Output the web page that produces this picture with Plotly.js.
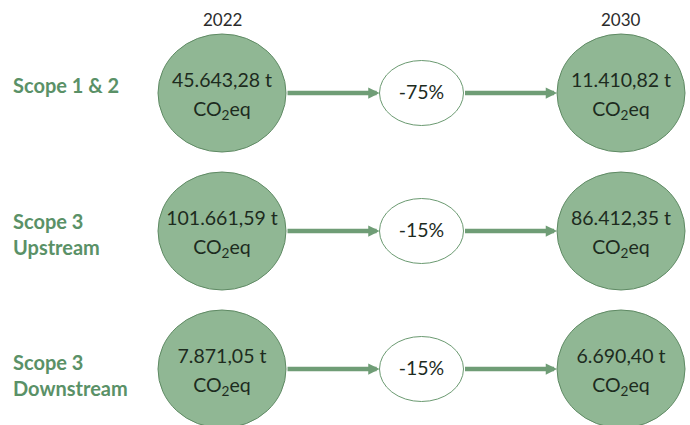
<!DOCTYPE html>
<html><head><meta charset="utf-8">
<script src="https://cdn.plot.ly/plotly-3.0.1.min.js"></script>
<style>html,body{margin:0;padding:0;background:#fff}#chart{width:690px;height:425px}</style>
</head><body><div id="chart"></div>
<script>
// ---- data ----
const scopes = ['Scope 1 &amp; 2', 'Scope 3<br>Upstream', 'Scope 3<br>Downstream'];
const years = ['2022', '2030'];
const emissions2022 = [45643.28, 101661.59, 7871.05];
const emissions2030 = [11410.82, 86412.35, 6690.40];
const reductions = [-75, -15, -15];
const unitLabel = 'CO<sub>2</sub>eq';

// ---- helpers ----
function fmtDE(v) {
  const parts = v.toFixed(2).split('.');
  const intPart = parts[0].replace(/\B(?=(\d{3})+(?!\d))/g, '.');
  return intPart + ',' + parts[1] + ' t';
}
const SX = 199.5, SY = 138;          // px per data unit
const px2x = p => p / SX, px2y = p => p / SY;
const bigRx = px2x(64), bigRy = px2y(59);
const smRx = px2x(42), smRy = px2y(32.5);
const colFrom = 0, colMid = 1, colTo = 2;
const rowIdx = scopes.map((_, i) => i);

const fillGreen = '#90b794', edgeGreen = '#5f8a64', arrowGreen = '#6f9d76';
const labelGreen = '#5a9167', textDark = '#1d2b1e';
const FONT = 'Lato, "Open Sans", sans-serif';

const shapes = [];
rowIdx.forEach(r => {
  [colFrom, colTo].forEach(c => shapes.push({
    type: 'circle', xref: 'x', yref: 'y',
    x0: c - bigRx, x1: c + bigRx, y0: r - bigRy, y1: r + bigRy,
    fillcolor: fillGreen, line: {color: edgeGreen, width: 1}, layer: 'below'
  }));
  shapes.push({
    type: 'circle', xref: 'x', yref: 'y',
    x0: colMid - smRx, x1: colMid + smRx, y0: r - smRy, y1: r + smRy,
    fillcolor: '#ffffff', line: {color: '#6b9a71', width: 1}, layer: 'below'
  });
});

const labelOffsetPx = [-8, 3, 6];
const annotations = [];
rowIdx.forEach(r => {
  // arrows
  annotations.push({x: colMid - smRx, y: r, ax: colFrom + bigRx, ay: r, xref: 'x', yref: 'y',
    axref: 'x', ayref: 'y', text: '', showarrow: true, arrowhead: 2, arrowsize: 0.5,
    arrowwidth: 4.5, arrowcolor: arrowGreen});
  annotations.push({x: colTo - bigRx, y: r, ax: colMid + smRx, ay: r, xref: 'x', yref: 'y',
    axref: 'x', ayref: 'y', text: '', showarrow: true, arrowhead: 2, arrowsize: 0.5,
    arrowwidth: 4.5, arrowcolor: arrowGreen});
  // row labels
  annotations.push({x: px2x(11 - 222), y: r + px2y(labelOffsetPx[r]), xref: 'x', yref: 'y',
    xanchor: 'left', yanchor: 'middle', align: 'left', showarrow: false,
    text: '<b>' + scopes[r] + '</b>',
    font: {family: FONT, size: 20, color: labelGreen}});
});
// year headers
years.forEach((yr, i) => annotations.push({x: [colFrom, colTo][i], y: px2y(19 - 93),
  xref: 'x', yref: 'y', showarrow: false, text: yr,
  font: {family: FONT, size: 17, color: '#2b2b2b'}}));

const textFont = {family: FONT, size: 19.5, color: textDark};
const traces = [
  {type: 'scatter', mode: 'text', x: rowIdx.map(() => colFrom), y: rowIdx.map(r => r - px2y(11)),
   text: emissions2022.map(fmtDE), textfont: textFont, hoverinfo: 'skip'},
  {type: 'scatter', mode: 'text', x: rowIdx.map(() => colTo), y: rowIdx.map(r => r - px2y(11)),
   text: emissions2030.map(fmtDE), textfont: textFont, hoverinfo: 'skip'},
  {type: 'scatter', mode: 'text', x: rowIdx.map(() => colFrom).concat(rowIdx.map(() => colTo)),
   y: rowIdx.map(r => r + px2y(18)).concat(rowIdx.map(r => r + px2y(18))),
   text: rowIdx.map(() => unitLabel).concat(rowIdx.map(() => unitLabel)), textfont: textFont, hoverinfo: 'skip'},
  {type: 'scatter', mode: 'text', x: rowIdx.map(() => colMid), y: rowIdx.map(r => r + px2y(1)),
   text: reductions.map(v => v + '%'), textfont: textFont, hoverinfo: 'skip'}
];

const layout = {
  width: 690, height: 425, margin: {l: 0, r: 0, t: 0, b: 0},
  paper_bgcolor: '#ffffff', plot_bgcolor: '#ffffff', showlegend: false,
  xaxis: {range: [px2x(-222), px2x(690 - 222)], visible: false, fixedrange: true},
  yaxis: {range: [px2y(425 - 93), px2y(-93)], visible: false, fixedrange: true},
  shapes: shapes, annotations: annotations
};
Plotly.newPlot('chart', traces, layout, {staticPlot: true, displayModeBar: false});
</script></body></html>
